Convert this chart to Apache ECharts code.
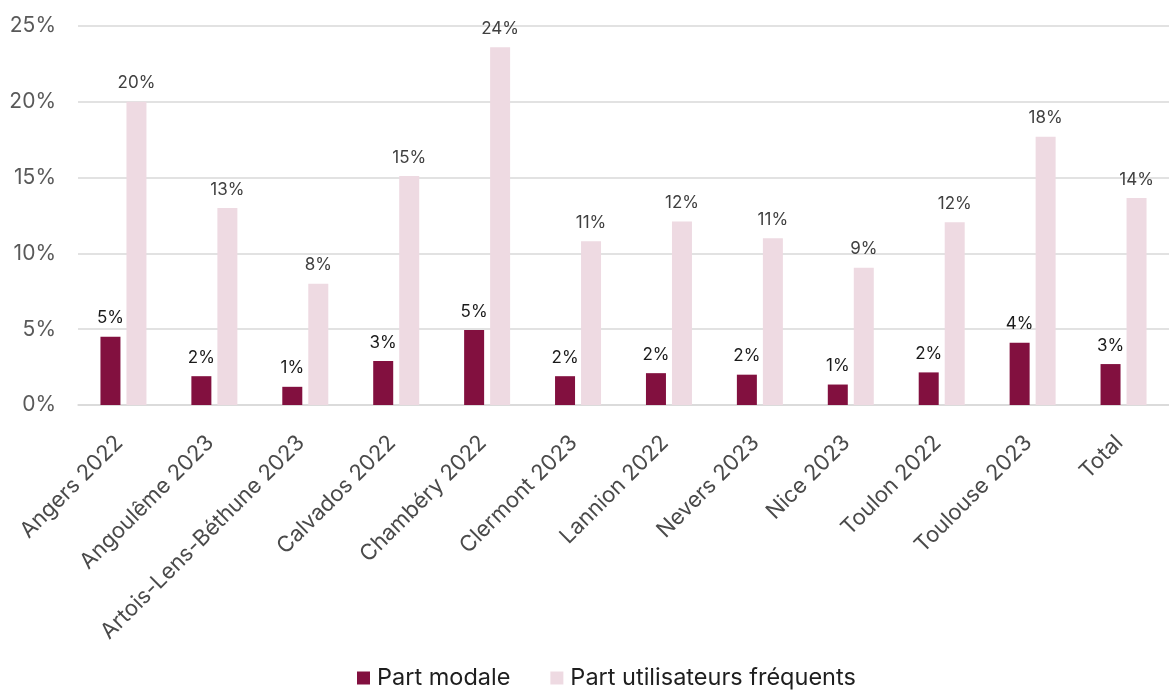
<!DOCTYPE html>
<html>
<head>
<meta charset="utf-8">
<style>
  html, body { margin: 0; padding: 0; background: #fff; }
  #chart { width: 1169px; height: 695px; }
</style>
<script src="https://cdn.jsdelivr.net/npm/echarts@6/dist/echarts.min.js"></script>
</head>
<body>
<div id="chart"></div>
<script>
// Territories surveyed
const categories = [
  'Angers 2022', 'Angoulême 2023', 'Artois-Lens-Béthune 2023', 'Calvados 2022',
  'Chambéry 2022', 'Clermont 2023', 'Lannion 2022', 'Nevers 2023',
  'Nice 2023', 'Toulon 2022', 'Toulouse 2023', 'Total'
];
// Values in percent
const partModale = [4.5, 1.9, 1.2, 2.9, 4.95, 1.9, 2.1, 2.0, 1.35, 2.15, 4.1, 2.7];
const partFrequents = [20.0, 13.0, 8.0, 15.1, 23.6, 10.8, 12.1, 11.0, 9.05, 12.05, 17.7, 13.65];
const yTicks = [0, 5, 10, 15, 20, 25];

const FONT = 'Inter, "Open Sans", sans-serif';
const chart = echarts.init(document.getElementById('chart'));

chart.setOption({
  animation: false,
  textStyle: { fontFamily: FONT },
  grid: { left: 78, right: 0, top: 26, bottom: 290 },
  legend: {
    bottom: 0,
    left: 352,
    itemWidth: 13,
    itemHeight: 13,
    itemGap: 40,
    icon: 'rect',
    textStyle: { fontFamily: FONT, fontSize: 23.5, color: '#1e1e1e', padding: [0, 0, 0, 2] },
    data: ['Part modale', 'Part utilisateurs fréquents']
  },
  xAxis: {
    type: 'category',
    data: categories,
    axisLine: { lineStyle: { color: '#d9d9d9', width: 1.5 } },
    axisTick: { show: false },
    axisLabel: {
      interval: 0,
      rotate: 45,
      fontFamily: FONT,
      fontSize: 22,
      color: '#4a4a4a',
      margin: 30,
      padding: [20, 6, 0, 0]
    }
  },
  yAxis: {
    type: 'value',
    min: yTicks[0],
    max: yTicks[yTicks.length - 1],
    interval: 5,
    axisLine: { show: false },
    axisTick: { show: false },
    splitLine: { lineStyle: { color: '#d9d9d9', width: 1.5 } },
    axisLabel: {
      formatter: '{value}%',
      fontFamily: FONT,
      fontSize: 21,
      color: '#595959',
      margin: 22
    }
  },
  series: [
    {
      name: 'Part modale',
      type: 'bar',
      data: partModale,
      barWidth: 20,
      barGap: '30%',
      itemStyle: { color: '#82103f' },
      label: {
        show: true,
        position: 'top',
        distance: 10,
        fontFamily: FONT,
        fontSize: 17,
        color: '#1a1a1a',
        formatter: p => Math.round(p.value) + '%'
      }
    },
    {
      name: 'Part utilisateurs fréquents',
      type: 'bar',
      data: partFrequents,
      barWidth: 20,
      itemStyle: { color: '#eedae2' },
      label: {
        show: true,
        position: 'top',
        distance: 10,
        fontFamily: FONT,
        fontSize: 17,
        color: '#404040',
        formatter: p => Math.round(p.value) + '%'
      }
    }
  ]
});
</script>
</body>
</html>
